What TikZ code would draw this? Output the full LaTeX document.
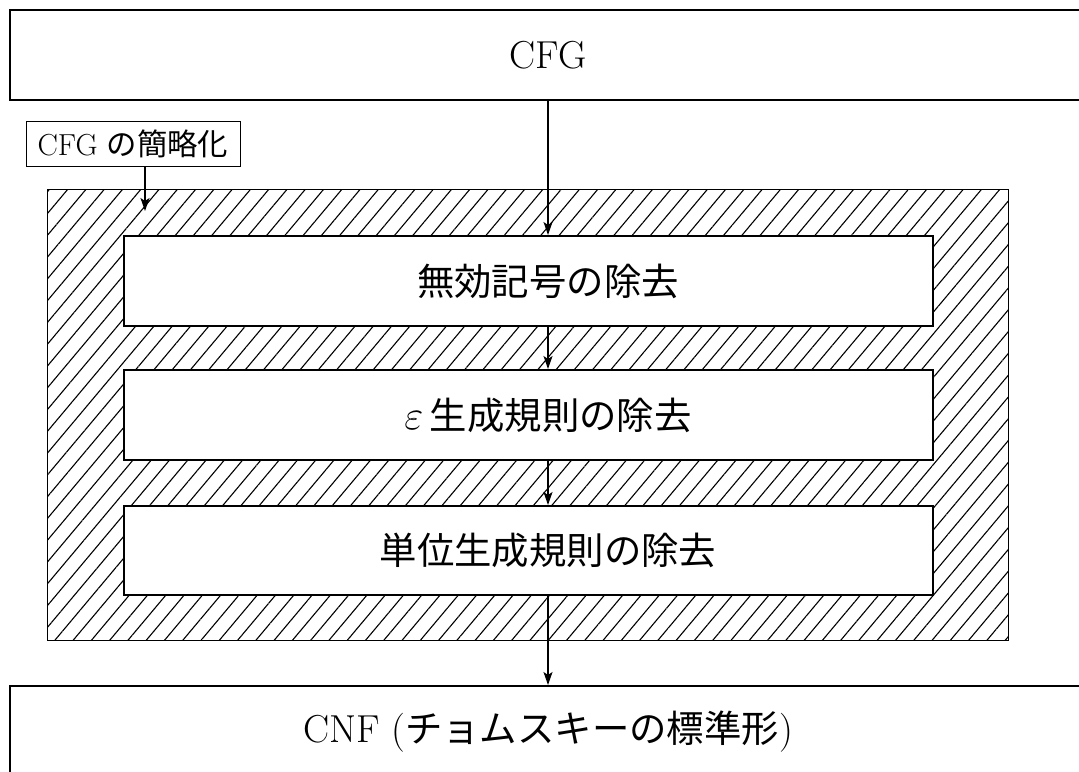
\documentclass[tikz,border=0pt]{standalone}
\usepackage{fontspec}
\newfontfamily\jp{Noto Sans CJK JP}
\usetikzlibrary{arrows.meta,patterns.meta}
\begin{document}
\begin{tikzpicture}[x=0.5pt,y=-0.5pt,
  frame/.style={draw,line width=0.8pt,rectangle,inner sep=0pt},
  txt/.style={font=\fontsize{19.5}{23}\selectfont,inner sep=0pt},
  jptxt/.style={font=\fontsize{18.7}{23}\selectfont\jp,inner sep=0pt},
  flow/.style={line width=0.7pt,-{Stealth[length=6.5pt,width=4.5pt,inset=1.5pt]}}]
\useasboundingbox (0,0) rectangle (1079,771);
\clip (0,0) rectangle (1079,771);
% outer boxes
\node[frame,minimum width=1100*0.5pt,minimum height=90*0.5pt,anchor=north west] (cfg) at (9,9) {};
\node[frame,minimum width=1100*0.5pt,minimum height=100*0.5pt,anchor=north west] (cnf) at (9,685) {};
% hatched region
\node[frame,line width=0.6pt,pattern={Lines[angle=50,distance=7pt,line width=0.55pt]},minimum width=961*0.5pt,minimum height=451*0.5pt,anchor=north west] (simp) at (47,189) {};
% inner boxes
\node[frame,fill=white,minimum width=809*0.5pt,minimum height=90*0.5pt,anchor=north west] (b1) at (123,235) {};
\node[frame,fill=white,minimum width=809*0.5pt,minimum height=90*0.5pt,anchor=north west] (b2) at (123,369) {};
\node[frame,fill=white,minimum width=809*0.5pt,minimum height=89*0.5pt,anchor=north west] (b3) at (123,505) {};
% texts
\coordinate (ax) at (548,0);
\node[txt] (tcfg) at (548,55) {CFG};
\node[jptxt] (t1) at (548,281) {無効記号の除去};
\node[txt] (t2) at (548,415) {$\varepsilon$\,{\fontsize{18.7}{23}\selectfont\jp 生成規則の除去}};
\node[jptxt] (t3) at (548,550) {単位生成規則の除去};
\node[txt,anchor=north] (tcnf) at (548,710) {CNF ({\fontsize{18.7}{23}\selectfont\jp チョムスキーの標準形})};
% label
\node[frame,line width=0.6pt,minimum width=214*0.5pt,minimum height=45*0.5pt,anchor=north west] (lab) at (26,121) {};
\node[font=\fontsize{15.2}{18}\selectfont,inner sep=0pt] (labt) at (133,144) {CFG {\jp の簡略化}};
\coordinate (labtip) at (145,211);
\draw[flow] (lab.south -| labtip) -- (labtip);
% arrows
\draw[flow] (cfg.south -| ax) -- (b1.north -| ax);
\draw[flow] (b1.south -| ax) -- (b2.north -| ax);
\draw[flow] (b2.south -| ax) -- (b3.north -| ax);
\draw[flow] (b3.south -| ax) -- (cnf.north -| ax);
\end{tikzpicture}
\end{document}
